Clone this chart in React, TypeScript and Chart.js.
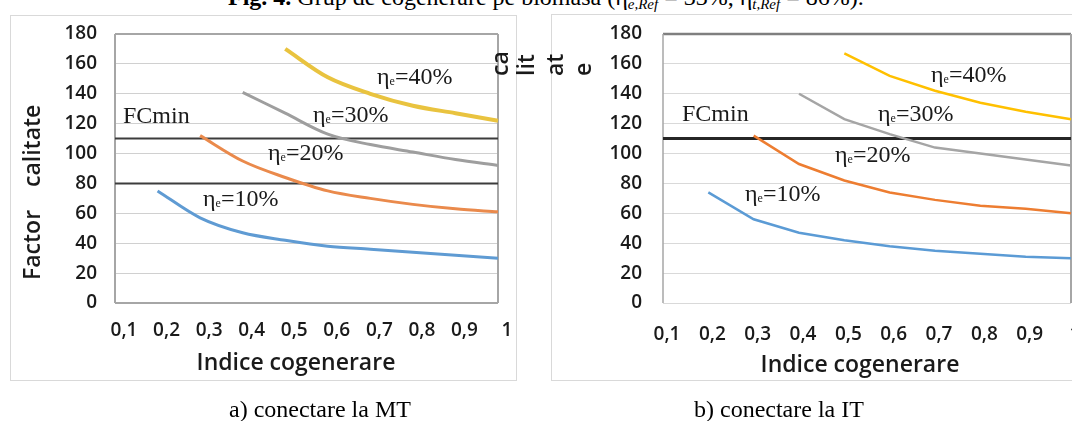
import React, { useEffect, useRef } from 'react';
import { Chart, registerables } from 'chart.js';

Chart.register(...registerables);

// ---------- data ----------
const xLabels = ['0,1', '0,2', '0,3', '0,4', '0,5', '0,6', '0,7', '0,8', '0,9', '1'];
const yMin = 0;
const yMax = 180;
const yStep = 20;

// a) conectare la MT
const mtEta10 = [null, 75, 57, 47, 42, 38, 36, 34, 32, 30];
const mtEta20 = [null, null, 112, 95, 84, 75, 70, 66, 63, 61];
const mtEta30 = [null, null, null, 141, 127, 113, 106, 101, 96, 92];
const mtEta40 = [null, null, null, null, 170, 151, 140, 132, 127, 122];
const mtRefLines = [110, 80];

// b) conectare la IT
const itEta10 = [null, 74, 56, 47, 42, 38, 35, 33, 31, 30];
const itEta20 = [null, null, 112, 93, 82, 74, 69, 65, 63, 60];
const itEta30 = [null, null, null, 140, 123, 113, 104, 100, 96, 92];
const itEta40 = [null, null, null, null, 167, 152, 142, 134, 128, 123];
const itRefLines = [110];

const seriesNames = ['ηe=10%', 'ηe=20%', 'ηe=30%', 'ηe=40%'];

// ---------- plugins ----------
const framePlugin = {
  id: 'frame',
  beforeDatasetsDraw(chart: any, _args: any, o: any) {
    const { ctx, chartArea: a } = chart;
    ctx.save();
    const side = (s: any, x1: number, y1: number, x2: number, y2: number) => {
      if (!s) return;
      ctx.strokeStyle = s.color;
      ctx.lineWidth = s.width;
      ctx.beginPath();
      ctx.moveTo(x1, y1);
      ctx.lineTo(x2, y2);
      ctx.stroke();
    };
    side(o.top, a.left, a.top, a.right, a.top);
    side(o.bottom, a.left, a.bottom, a.right, a.bottom);
    side(o.left, a.left, a.top, a.left, a.bottom);
    side(o.right, a.right, a.top, a.right, a.bottom);
    ctx.restore();
  },
};

const refLinePlugin = {
  id: 'refLines',
  beforeDatasetsDraw(chart: any, _args: any, o: any) {
    const { ctx, chartArea: a, scales } = chart;
    ctx.save();
    ctx.strokeStyle = o.color;
    ctx.lineWidth = o.width;
    for (const v of o.values as number[]) {
      const y = scales.y.getPixelForValue(v);
      ctx.beginPath();
      ctx.moveTo(a.left, y);
      ctx.lineTo(a.right, y);
      ctx.stroke();
    }
    ctx.restore();
  },
};

// ---------- chart component ----------
type Props = {
  left: number;
  top: number;
  width: number;
  height: number;
  series: (number | null)[][];
  colors: string[];
  lineWidths: number[];
  tension: number;
  refLines: number[];
  refColor: string;
  refWidth: number;
  frame: any;
  plotLeft: number;
  plotRightPad: number;
  plotTop: number;
  xAxisHeight: number;
  yTickPad: number;
  xTickPad: number;
  xLabelOffset: number;
  gridColor: string;
};

const sans = '"Open Sans", Lato, sans-serif';
const tickFont = { family: sans, size: 19, weight: '600' };
const textColor = '#1a1a1a';

function CogenChart(p: Props) {
  const ref = useRef<HTMLCanvasElement>(null);
  useEffect(() => {
    const chart = new Chart(ref.current as HTMLCanvasElement, {
      type: 'line',
      data: {
        labels: xLabels,
        datasets: p.series.map((d, i) => ({
          label: seriesNames[i],
          data: d,
          borderColor: p.colors[i],
          backgroundColor: p.colors[i],
          borderWidth: p.lineWidths[i],
          pointRadius: 0,
          tension: p.tension,
          cubicInterpolationMode: p.tension > 0 ? 'monotone' : 'default',
          fill: false,
        })) as any,
      },
      options: {
        responsive: false,
        animation: false,
        devicePixelRatio: 1,
        layout: { padding: { left: 0, right: p.plotRightPad, top: p.plotTop, bottom: 0 } },
        plugins: {
          legend: { display: false },
          tooltip: { enabled: false },
          frame: p.frame,
          refLines: { values: p.refLines, color: p.refColor, width: p.refWidth },
        } as any,
        scales: {
          x: {
            type: 'category',
            offset: false,
            grid: { display: false, drawTicks: false },
            border: { display: false },
            ticks: {
              autoSkip: false,
              maxRotation: 0,
              minRotation: 0,
              padding: p.xTickPad,
              labelOffset: p.xLabelOffset,
              color: textColor,
              font: tickFont,
            },
            afterFit: (s: any) => {
              s.height = p.xAxisHeight;
              s.paddingLeft = 0;
              s.paddingRight = 0;
            },
          },
          y: {
            min: yMin,
            max: yMax,
            ticks: { stepSize: yStep, padding: p.yTickPad, color: textColor, font: tickFont },
            grid: { color: p.gridColor, lineWidth: 1, drawTicks: false },
            border: { display: false },
            afterFit: (s: any) => {
              s.width = p.plotLeft;
              s.paddingTop = 0;
              s.paddingBottom = 0;
            },
          },
        } as any,
      },
      plugins: [framePlugin, refLinePlugin],
    });
    return () => chart.destroy();
  }, []);
  return (
    <canvas
      ref={ref}
      width={p.width}
      height={p.height}
      style={{ position: 'absolute', left: p.left, top: p.top, width: p.width, height: p.height }}
    />
  );
}

// ---------- text helpers ----------
const serif = '"Liberation Serif", "Times New Roman", serif';

function Note({ x, y, children }: { x: number; y: number; children: any }) {
  return (
    <div
      style={{
        position: 'absolute',
        left: x,
        top: y,
        fontFamily: serif,
        fontSize: 24,
        lineHeight: '24px',
        whiteSpace: 'nowrap',
        color: '#1a1a1a',
      }}
    >
      {children}
    </div>
  );
}

function Eta({ pct }: { pct: string }) {
  return (
    <>
      η<span style={{ fontSize: 12, verticalAlign: '-1px' }}>e</span>={pct}
    </>
  );
}

function VText({ x, y, children }: { x: number; y: number; children: any }) {
  return (
    <div
      style={{
        position: 'absolute',
        left: x,
        top: y,
        transformOrigin: '0 0',
        transform: 'rotate(-90deg)',
        fontFamily: sans,
        fontWeight: 600,
        fontSize: 23,
        lineHeight: '23px',
        whiteSpace: 'nowrap',
        color: textColor,
      }}
    >
      {children}
    </div>
  );
}

function XTitle({ cx, cy }: { cx: number; cy: number }) {
  return (
    <div
      style={{
        position: 'absolute',
        left: cx,
        top: cy,
        transform: 'translate(-50%, -50%)',
        fontFamily: sans,
        fontWeight: 600,
        fontSize: 23,
        lineHeight: '23px',
        whiteSpace: 'nowrap',
        color: textColor,
      }}
    >
      Indice cogenerare
    </div>
  );
}

const captionStyle: any = {
  position: 'absolute',
  top: 397,
  fontFamily: serif,
  fontSize: 24,
  lineHeight: '24px',
  whiteSpace: 'nowrap',
  color: '#000',
};

export default function App() {
  return (
    <div
      style={{
        position: 'absolute',
        left: 0,
        top: 0,
        width: 1072,
        height: 421,
        overflow: 'hidden',
        background: '#fff',
      }}
    >
      {/* top caption (cut at the top edge) */}
      <div
        style={{
          position: 'absolute',
          left: 228,
          top: -15,
          fontFamily: serif,
          fontSize: 24,
          lineHeight: '24px',
          whiteSpace: 'nowrap',
          color: '#000',
        }}
      >
        <b>Fig. 4.</b> Grup de cogenerare pe biomasa (η
        <span style={{ fontSize: 15, fontStyle: 'italic', verticalAlign: '-4px' }}>e,Ref</span> = 33%, η
        <span style={{ fontSize: 15, fontStyle: 'italic', verticalAlign: '-4px' }}>t,Ref</span> = 86%).
      </div>

      {/* outer chart frames */}
      <div
        style={{
          position: 'absolute',
          left: 10,
          top: 15,
          width: 507,
          height: 366,
          border: '1.5px solid #d9d9d9',
          boxSizing: 'border-box',
        }}
      />
      <div
        style={{
          position: 'absolute',
          left: 551,
          top: 14,
          width: 540,
          height: 367,
          border: '1.5px solid #d9d9d9',
          boxSizing: 'border-box',
        }}
      />

      <CogenChart
        left={10}
        top={15}
        width={507}
        height={366}
        series={[mtEta10, mtEta20, mtEta30, mtEta40]}
        colors={['#5f9bd3', '#ea8a4c', '#9e9e9e', '#e9c33f']}
        lineWidths={[3, 3, 3, 4]}
        tension={0.4}
        refLines={mtRefLines}
        refColor="#3c3c3c"
        refWidth={2}
        frame={{
          top: { color: '#a6a6a6', width: 2 },
          bottom: { color: '#a6a6a6', width: 2 },
          left: { color: '#a6a6a6', width: 2 },
          right: { color: '#a6a6a6', width: 2 },
        }}
        plotLeft={105}
        plotRightPad={19}
        plotTop={19}
        xAxisHeight={78}
        yTickPad={18}
        xTickPad={16}
        xLabelOffset={9}
        gridColor="#d0d0d0"
      />

      <CogenChart
        left={551}
        top={15}
        width={521}
        height={366}
        series={[itEta10, itEta20, itEta30, itEta40]}
        colors={['#5B9BD5', '#ED7D31', '#A5A5A5', '#FFC000']}
        lineWidths={[2.5, 2.5, 2.5, 2.5]}
        tension={0}
        refLines={itRefLines}
        refColor="#262626"
        refWidth={3}
        frame={{
          top: { color: '#7f7f7f', width: 2.5 },
          left: { color: '#a6a6a6', width: 1.5 },
          right: { color: '#a6a6a6', width: 2 },
        }}
        plotLeft={112}
        plotRightPad={1}
        plotTop={19}
        xAxisHeight={78}
        yTickPad={21}
        xTickPad={20}
        xLabelOffset={4}
        gridColor="#d9d9d9"
      />

      {/* x-axis titles */}
      <XTitle cx={296} cy={361} />
      <XTitle cx={860} cy={363} />

      {/* y-axis title (left) and the broken fragments */}
      <VText x={20} y={280}>Factor</VText>
      <VText x={20} y={187}>calitate</VText>
      <VText x={488} y={76}>ca</VText>
      <VText x={514} y={76}>lit</VText>
      <VText x={543} y={76}>at</VText>
      <VText x={571} y={76}>e</VText>

      {/* annotations, chart a */}
      <Note x={377} y={64}><Eta pct="40%" /></Note>
      <Note x={313} y={102}><Eta pct="30%" /></Note>
      <Note x={123} y={103}>FCmin</Note>
      <Note x={268} y={140}><Eta pct="20%" /></Note>
      <Note x={203} y={186}><Eta pct="10%" /></Note>

      {/* annotations, chart b */}
      <Note x={931} y={62}><Eta pct="40%" /></Note>
      <Note x={682} y={101}>FCmin</Note>
      <Note x={878} y={101}><Eta pct="30%" /></Note>
      <Note x={835} y={142}><Eta pct="20%" /></Note>
      <Note x={745} y={181}><Eta pct="10%" /></Note>

      {/* sub-captions */}
      <div style={{ ...captionStyle, left: 229 }}>a) conectare la MT</div>
      <div style={{ ...captionStyle, left: 694 }}>b) conectare la IT</div>
    </div>
  );
}
